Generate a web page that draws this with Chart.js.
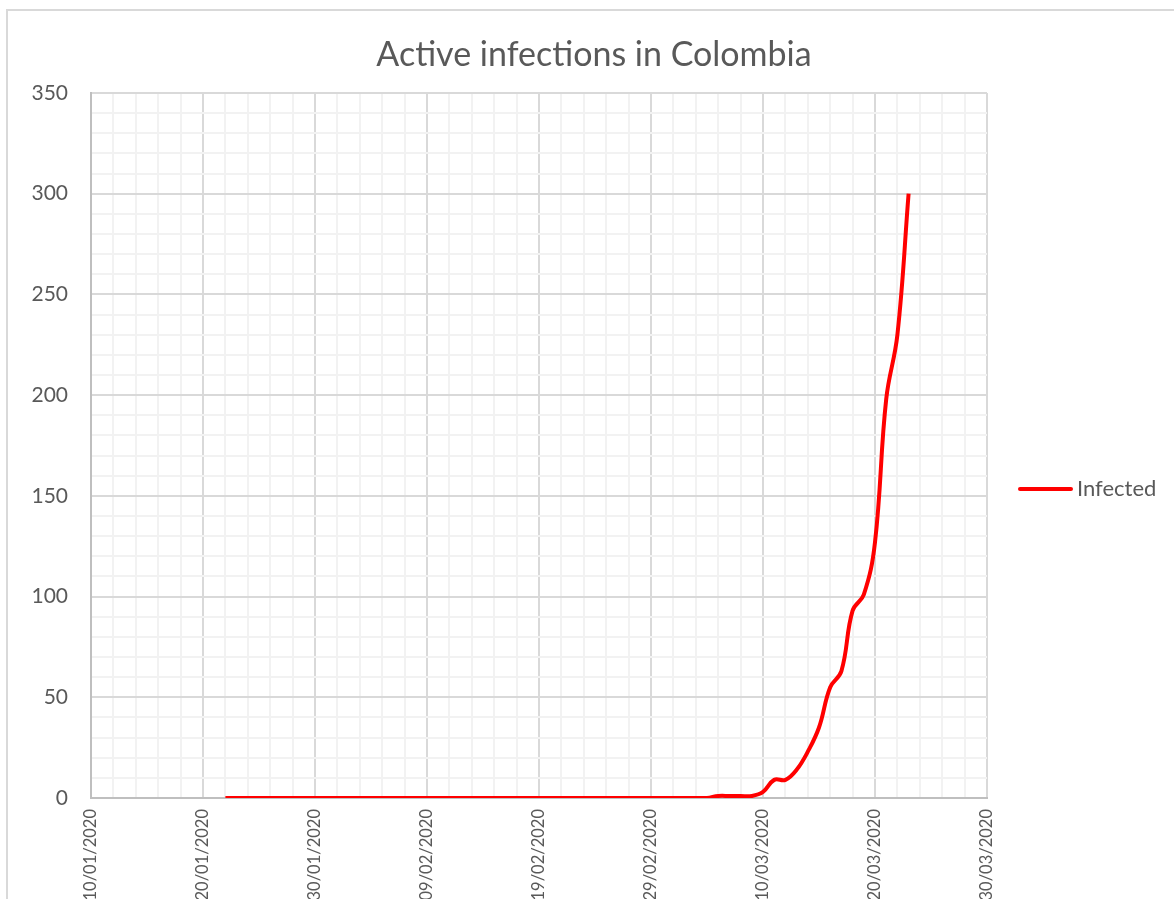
<!DOCTYPE html>
<html>
<head>
<meta charset="utf-8">
<title>Active infections in Colombia</title>
<script src="https://cdn.jsdelivr.net/npm/chart.js@4/dist/chart.umd.min.js"></script>
<style>
    html, body { margin: 0; padding: 0; background: #fff; overflow: hidden; }
    #frame {
        position: absolute; left: 6px; top: 9px;
        width: 1300px; height: 1000px;
        border-left: 2px solid #d9d9d9; border-top: 2px solid #d9d9d9;
    }
    #wrap { position: absolute; left: 0; top: 0; width: 1174px; height: 899px; }
</style>
</head>
<body>
<div id="frame"></div>
<div id="wrap"><canvas id="infectionsChart"></canvas></div>
<script>
// Datos
const dates = [
    '22/01/2020', '23/01/2020', '24/01/2020', '25/01/2020', '26/01/2020', '27/01/2020', '28/01/2020', '29/01/2020', '30/01/2020', '31/01/2020',
    '01/02/2020', '02/02/2020', '03/02/2020', '04/02/2020', '05/02/2020', '06/02/2020', '07/02/2020', '08/02/2020', '09/02/2020', '10/02/2020',
    '11/02/2020', '12/02/2020', '13/02/2020', '14/02/2020', '15/02/2020', '16/02/2020', '17/02/2020', '18/02/2020', '19/02/2020', '20/02/2020',
    '21/02/2020', '22/02/2020', '23/02/2020', '24/02/2020', '25/02/2020', '26/02/2020', '27/02/2020', '28/02/2020', '29/02/2020',
    '01/03/2020', '02/03/2020', '03/03/2020', '04/03/2020', '05/03/2020', '06/03/2020', '07/03/2020', '08/03/2020', '09/03/2020', '10/03/2020',
    '11/03/2020', '12/03/2020', '13/03/2020', '14/03/2020', '15/03/2020', '16/03/2020', '17/03/2020', '18/03/2020', '19/03/2020', '20/03/2020',
    '21/03/2020', '22/03/2020', '23/03/2020'
];
const infected = [
    0, 0, 0, 0, 0, 0, 0, 0, 0, 0,
    0, 0, 0, 0, 0, 0, 0, 0, 0, 0,
    0, 0, 0, 0, 0, 0, 0, 0, 0, 0,
    0, 0, 0, 0, 0, 0, 0, 0, 0,
    0, 0, 0, 0, 0, 1, 1, 1, 1, 3,
    9, 9, 14, 23, 35, 55, 63, 93, 101, 127,
    198, 230, 300
];
const axisStart = '10/01/2020';
const axisEnd = '30/03/2020';
const yTicks = [0, 50, 100, 150, 200, 250, 300, 350];

const DAY = 86400000;
function parseDate(s) {
    const [d, m, y] = s.split('/').map(Number);
    return Date.UTC(y, m - 1, d);
}
function formatDate(t) {
    const dt = new Date(t);
    const dd = String(dt.getUTCDate()).padStart(2, '0');
    const mm = String(dt.getUTCMonth() + 1).padStart(2, '0');
    return dd + '/' + mm + '/' + dt.getUTCFullYear();
}
const t0 = parseDate(axisStart);
const dayOf = s => Math.round((parseDate(s) - t0) / DAY);

const points = dates.map((d, i) => ({ x: dayOf(d), y: infected[i] }));

const chartTitle = 'Active infections in Colombia';
const textColor = '#595959';
const fontFamily = 'Lato, "Open Sans", sans-serif';

// Titulo y leyenda dibujados a mano
const titleAndLegend = {
    id: 'titleAndLegend',
    afterDraw(chart) {
        const c = chart.ctx;
        const ds = chart.data.datasets[0];
        c.save();
        c.fillStyle = textColor;
        c.font = '34px ' + fontFamily;
        c.textAlign = 'center';
        c.textBaseline = 'middle';
        c.fillText(chartTitle, 594, 55);

        const y = 489;
        c.strokeStyle = ds.borderColor;
        c.lineWidth = 4;
        c.lineCap = 'round';
        c.beginPath();
        c.moveTo(1020, y);
        c.lineTo(1071, y);
        c.stroke();
        c.font = '22px ' + fontFamily;
        c.textAlign = 'left';
        c.fillText(ds.label, 1077, y);
        c.restore();
    }
};

new Chart(document.getElementById('infectionsChart'), {
    type: 'line',
    data: {
        datasets: [{
            label: 'Infected',
            data: points,
            borderColor: '#ff0000',
            borderWidth: 4,
            pointRadius: 0,
            tension: 0.4,
            fill: false
        }]
    },
    options: {
        responsive: true,
        maintainAspectRatio: false,
        animation: false,
        layout: { padding: { left: 14, right: 187, top: 93, bottom: 0 } },
        plugins: {
            legend: { display: false },
            tooltip: { enabled: false },
            title: { display: false }
        },
        scales: {
            x: {
                type: 'linear',
                min: 0,
                max: dayOf(axisEnd),
                afterFit: scale => { scale.height = 101; },
                afterBuildTicks: scale => {
                    const ticks = [];
                    for (let v = 0; v <= dayOf(axisEnd); v += 2) ticks.push({ value: v });
                    scale.ticks = ticks;
                },
                ticks: {
                    autoSkip: false,
                    maxRotation: 90,
                    minRotation: 90,
                    padding: 11,
                    color: textColor,
                    font: { family: fontFamily, size: 16.5 },
                    callback: v => (v % 10 === 0 ? formatDate(t0 + v * DAY) : '')
                },
                grid: {
                    drawTicks: false,
                    lineWidth: 2,
                    color: ctx => (ctx.tick && ctx.tick.value % 10 === 0 ? '#d9d9d9' : '#f2f2f2')
                },
                border: { color: '#bfbfbf', width: 2 }
            },
            y: {
                min: yTicks[0],
                max: yTicks[yTicks.length - 1],
                afterFit: scale => { scale.width = 77; },
                ticks: {
                    stepSize: 10,
                    autoSkip: false,
                    padding: 23,
                    color: textColor,
                    font: { family: fontFamily, size: 21 },
                    callback: v => (yTicks.includes(v) ? v : '')
                },
                grid: {
                    drawTicks: false,
                    lineWidth: 2,
                    color: ctx => (ctx.tick && yTicks.includes(ctx.tick.value) ? '#d9d9d9' : '#f2f2f2')
                },
                border: { color: '#bfbfbf', width: 2 }
            }
        }
    },
    plugins: [titleAndLegend]
});
</script>
</body>
</html>
